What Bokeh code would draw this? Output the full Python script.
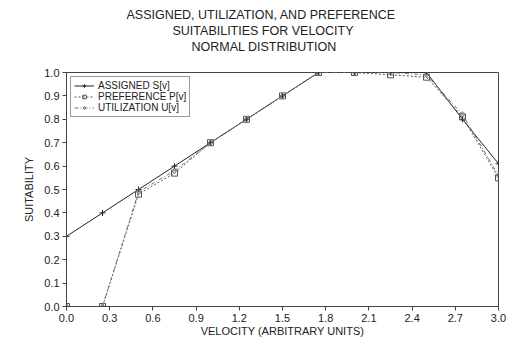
from bokeh.plotting import figure
from bokeh.models import Legend, LegendItem, Range1d, FixedTicker, Title
from bokeh.embed import file_html
from bokeh.resources import INLINE

velocity = [0.0, 0.25, 0.5, 0.75, 1.0, 1.25, 1.5, 1.75, 2.0, 2.25, 2.5, 2.75, 3.0]
assigned = [0.30, 0.40, 0.50, 0.60, 0.70, 0.80, 0.90, 1.00, 1.00, 1.00, 1.00, 0.80, 0.61]
preference = [0.00, 0.00, 0.48, 0.57, 0.70, 0.80, 0.90, 1.00, 1.00, 0.99, 0.98, 0.81, 0.55]
utilization = [0.00, 0.00, 0.49, 0.58, 0.70, 0.80, 0.90, 1.00, 1.00, 1.00, 0.99, 0.82, 0.56]

x_ticks = [0.0, 0.3, 0.6, 0.9, 1.2, 1.5, 1.8, 2.1, 2.4, 2.7, 3.0]
y_ticks = [0.0, 0.1, 0.2, 0.3, 0.4, 0.5, 0.6, 0.7, 0.8, 0.9, 1.0]
title_lines = ["ASSIGNED, UTILIZATION, AND PREFERENCE",
               "SUITABILITIES FOR VELOCITY",
               "NORMAL DISTRIBUTION"]
title_offsets = [60, 106, 125]

FONT = "Liberation Sans"

p = figure(width=507, height=340, output_backend="svg", toolbar_location=None,
           x_range=Range1d(0, 3.0), y_range=Range1d(0, 1.0),
           min_border_left=66, min_border_right=9, min_border_top=72,
           min_border_bottom=34)
p.grid.visible = False
p.outline_line_color = "#444444"
p.outline_line_width = 1

for ax in (p.xaxis[0], p.yaxis[0]):
    ax.axis_line_color = "#444444"
    ax.major_tick_line_color = "#444444"
    ax.minor_tick_line_color = None
    ax.major_tick_out = 4
    ax.major_tick_in = 0
    ax.major_label_text_font = FONT
    ax.major_label_text_font_size = "11px"
    ax.major_label_text_color = "#222222"
    ax.axis_label_text_font = FONT
    ax.axis_label_text_font_size = "11px"
    ax.axis_label_text_font_style = "normal"
    ax.axis_label_text_color = "#222222"

p.xaxis.ticker = FixedTicker(ticks=x_ticks)
p.yaxis.ticker = FixedTicker(ticks=y_ticks)
p.xaxis.major_label_overrides = {t: f"{t:.1f}" for t in x_ticks}
p.yaxis.major_label_overrides = {t: f"{t:.1f}" for t in y_ticks}
p.xaxis.axis_label = "VELOCITY (ARBITRARY UNITS)"
p.yaxis.axis_label = "SUITABILITY"
p.xaxis.major_label_standoff = 3
p.xaxis.axis_label_standoff = 0
p.yaxis.major_label_standoff = 3
p.yaxis.axis_label_standoff = 6

r_s = p.line(velocity, assigned, line_color="#222222", line_width=1)
m_s = p.scatter(velocity, assigned, marker="cross", size=6, line_color="#222222")
r_p = p.line(velocity, preference, line_color="#555555", line_width=1, line_dash="2 2")
m_p = p.scatter(velocity, preference, marker="square", size=6, line_color="#555555",
                fill_color=None)
r_u = p.line(velocity, utilization, line_color="#777777", line_width=1, line_dash="4 2 1 2")
m_u = p.scatter(velocity, utilization, marker="diamond", size=6, line_color="#777777",
                fill_color=None)

legend = Legend(items=[
    LegendItem(label="ASSIGNED S[v]", renderers=[r_s, m_s]),
    LegendItem(label="PREFERENCE P[v]", renderers=[r_p, m_p]),
    LegendItem(label="UTILIZATION U[v]", renderers=[r_u, m_u]),
], location="top_left")
legend.label_text_font = FONT
legend.label_text_font_size = "10px"
legend.label_text_color = "#222222"
legend.label_height = 9
legend.glyph_height = 9
legend.glyph_width = 20
legend.spacing = 0
legend.padding = 3
legend.margin = 4
legend.label_standoff = 4
legend.border_line_color = "#333333"
legend.border_line_width = 1
legend.background_fill_alpha = 1
p.add_layout(legend)

# spacer between frame and title block
p.add_layout(Title(text=" ", text_font_size="15px", standoff=0), "above")
for line, off in reversed(list(zip(title_lines, title_offsets))):
    p.add_layout(Title(text=line, align="left", offset=off, standoff=0,
                       text_font=FONT, text_font_size="12.5px",
                       text_font_style="normal", text_color="#222222"), "above")

open("out.html", "w").write(file_html(p, INLINE))
